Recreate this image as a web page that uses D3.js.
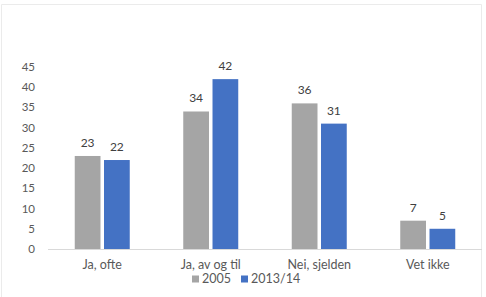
<!DOCTYPE html>
<html>
<head>
<meta charset="utf-8">
<script src="https://cdn.jsdelivr.net/npm/d3@7"></script>
<style>
  body { margin: 0; background: #fff; }
  svg { display: block; font-family: Lato, "Open Sans", sans-serif; }
</style>
</head>
<body>
<svg id="chart" width="486" height="297"></svg>
<script>
// data
var categories = ["Ja, ofte", "Ja, av og til", "Nei, sjelden", "Vet ikke"];
var seriesNames = ["2005", "2013/14"];
var values2005 = [23, 34, 36, 7];
var values2013 = [22, 42, 31, 5];
var yTicks = [0, 5, 10, 15, 20, 25, 30, 35, 40, 45];

// colours
var greyColour = '#A5A5A5';
var blueColour = '#4472C4';
var textColour = '#595959';
var labelColour = '#404040';
var lineColour = '#D9D9D9';

var svg = d3.select("#chart");

// faint chart frame
svg.append("path")
  .attr("d", "M1.5,297 V4.5 H481.5 V297")
  .attr("fill", "none")
  .attr("stroke", "#EBEBEB")
  .attr("stroke-width", 1);

var x0 = d3.scaleBand().domain(categories).range([48, 482]);
var x1 = d3.scaleBand().domain(seriesNames).range([0, 55]).paddingInner(0.12);
var y = d3.scaleLinear().domain([0, 45]).range([249, 67]);

// y tick labels (no gridlines)
svg.selectAll("text.ytick")
  .data(yTicks)
  .enter().append("text")
  .attr("class", "ytick")
  .attr("x", 35)
  .attr("y", function (d) { return y(d) + 4; })
  .attr("text-anchor", "end")
  .attr("font-size", 11.5)
  .attr("fill", textColour)
  .text(function (d) { return d; });

var rows = categories.map(function (c, i) {
  return { cat: c, vals: [
    { s: seriesNames[0], v: values2005[i], col: greyColour },
    { s: seriesNames[1], v: values2013[i], col: blueColour }
  ] };
});

var groups = svg.selectAll("g.grp")
  .data(rows)
  .enter().append("g")
  .attr("class", "grp")
  .attr("transform", function (d) {
    return "translate(" + (x0(d.cat) + (x0.bandwidth() - 55) / 2) + ",0)";
  });

groups.selectAll("rect")
  .data(function (d) { return d.vals; })
  .enter().append("rect")
  .attr("x", function (d) { return x1(d.s); })
  .attr("y", function (d) { return y(d.v); })
  .attr("width", x1.bandwidth())
  .attr("height", function (d) { return y(0) - y(d.v); })
  .attr("fill", function (d) { return d.col; });

groups.selectAll("text.val")
  .data(function (d) { return d.vals; })
  .enter().append("text")
  .attr("class", "val")
  .attr("x", function (d) { return x1(d.s) + x1.bandwidth() / 2; })
  .attr("y", function (d) { return y(d.v) - 9; })
  .attr("text-anchor", "middle")
  .attr("font-size", 12)
  .attr("fill", labelColour)
  .text(function (d) { return d.v; });

// baseline
svg.append("line")
  .attr("x1", 48).attr("x2", 482)
  .attr("y1", y(0) + 0.5).attr("y2", y(0) + 0.5)
  .attr("stroke", lineColour);

// category labels
svg.selectAll("text.cat")
  .data(categories)
  .enter().append("text")
  .attr("class", "cat")
  .attr("x", function (d) { return x0(d) + x0.bandwidth() / 2; })
  .attr("y", 268.5)
  .attr("text-anchor", "middle")
  .attr("font-size", 12.5)
  .attr("fill", textColour)
  .text(function (d) { return d; });

// legend
var legendX = [192, 241];
var legend = svg.selectAll("g.leg")
  .data(seriesNames)
  .enter().append("g")
  .attr("class", "leg")
  .attr("transform", function (d, i) { return "translate(" + legendX[i] + ",0)"; });

legend.append("rect")
  .attr("x", 0).attr("y", 275.5)
  .attr("width", 7).attr("height", 7)
  .attr("fill", function (d, i) { return i === 0 ? greyColour : blueColour; });

legend.append("text")
  .attr("x", 10)
  .attr("y", 283)
  .attr("font-size", 12.5)
  .attr("fill", textColour)
  .text(function (d) { return d; });
</script>
</body>
</html>
